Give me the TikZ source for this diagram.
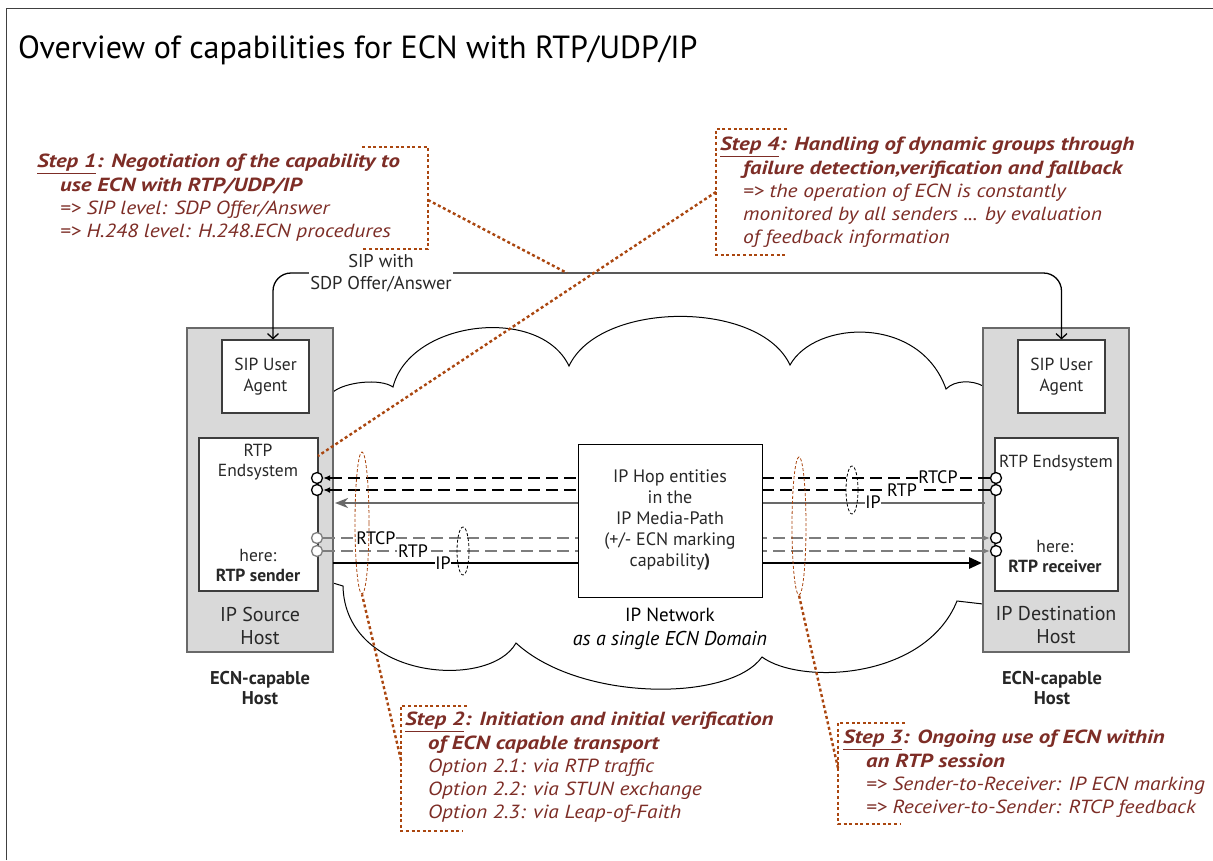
\documentclass[tikz,border=0pt]{standalone}
\usepackage{fontspec}
\setmainfont{PT Sans}
\newfontfamily\stepfont[FakeStretch=1.13]{PT Sans}
\newfontfamily\stepbfont[FakeStretch=1.2]{PT Sans}
\usetikzlibrary{arrows.meta,shapes.geometric}
\definecolor{stepbrown}{RGB}{125,45,38}
\definecolor{dotbrown}{RGB}{170,70,15}
\definecolor{hostgray}{RGB}{217,217,217}
\definecolor{linegray}{RGB}{105,105,105}
\definecolor{sendgray}{RGB}{125,125,125}
\definecolor{txtgray}{RGB}{40,40,40}
\newcommand{\myfs}[2]{\fontsize{#1}{#2}\selectfont}
\newcommand{\stb}[1]{{\stepbfont\bfseries #1}}
\begin{document}
\begin{tikzpicture}[x=1pt,y=-1pt,
  hostbox/.style={draw=linegray, fill=hostgray, line width=1.2pt, inner sep=0},
  innerbox/.style={draw=txtgray!90, fill=white, line width=1.1pt, inner sep=0},
  hosttxt/.style={text=txtgray, align=center, inner sep=0},
  steptxt/.style={text=stepbrown, align=left, anchor=north west, inner sep=0, font=\myfs{19}{23.3}\stepfont\itshape},
  bracket/.style={draw=dotbrown, line width=2.4pt, dash pattern=on 3pt off 2.6pt},
  thinell/.style={ellipse, draw=dotbrown, line width=0.8pt, dash pattern=on 3pt off 2pt, inner sep=0},
  blkell/.style={ellipse, draw=black, line width=0.8pt, dash pattern=on 3pt off 2pt, inner sep=0},
  cloudline/.style={draw=black, line width=1pt},
  sigline/.style={draw=black, line width=1.3pt, rounded corners=18pt, -{Straight Barb[length=5pt,width=11pt]}},
  port/.style={circle, draw=black, line width=1.3pt, fill=white, minimum size=11pt, inner sep=0},
  rxdash/.style={draw=black, line width=1.5pt, dash pattern=on 12pt off 6pt, -{Latex[length=7pt,width=6pt]}},
  txdash/.style={draw=sendgray, line width=1.5pt, dash pattern=on 12pt off 6pt, -{Latex[length=7pt,width=6pt]}},
  lbl/.style={fill=white, inner sep=0.8pt, font=\myfs{18}{20}, text=black}
]
\useasboundingbox (0,0) rectangle (1213,860);
\fill[white] (0,0) rectangle (1213,860);
% frame
\draw[line width=1pt, black!75] (6,860) -- (6,8) -- (1213,8);
% title
\node[anchor=base west, inner sep=0, font=\myfs{32}{38}, text=black] (title) at (18,58) {Overview of capabilities for ECN with RTP/UDP/IP};

% cloud
\draw[cloudline] (333,392) .. controls (345,382) and (380,378) .. (393,387)
  .. controls (410,320) and (540,305) .. (569,366)
  .. controls (600,300) and (760,300) .. (790,365)
  .. controls (815,320) and (920,315) .. (946,389)
  .. controls (955,380) and (972,380) .. (983,386);
\draw[cloudline] (983,604) -- (957,601)
  .. controls (925,680) and (800,685) .. (762,657)
  .. controls (730,702) and (580,702) .. (516,643)
  .. controls (490,690) and (345,680) .. (343,586)
  -- (333,583);

% hosts
\node[hostbox, minimum width=146pt, minimum height=324pt] (srchost) at (260,490) {};
\node[hostbox, minimum width=146pt, minimum height=324pt] (dsthost) at (1056,490) {};
\node[innerbox, minimum width=87pt, minimum height=73pt, hosttxt, font=\myfs{17.5}{21}] (sipL) at (265.5,376.5) {SIP User\\Agent};
\node[innerbox, minimum width=87pt, minimum height=73pt, hosttxt, font=\myfs{17.5}{21}] (sipR) at (1061.5,376.5) {SIP User\\Agent};
\node[innerbox, minimum width=119pt, minimum height=153pt] (rtpL) at (258.5,514.5) {};
\node[innerbox, minimum width=123pt, minimum height=153pt] (rtpR) at (1056.5,514.5) {};
\node[hosttxt, font=\myfs{17.5}{20}] (rtpLt) at (258,462) {RTP\\Endsystem};
\node[hosttxt, font=\myfs{17.5}{20}] (rtpLb) at (258,565) {here:\\\textbf{RTP sender}};
\node[hosttxt, font=\myfs{17.5}{20}] (rtpRt) at (1056,463) {RTP Endsystem};
\node[hosttxt, font=\myfs{17.5}{20}] (rtpRb) at (1055,556) {here:\\\textbf{RTP receiver}};
\node[hosttxt, font=\myfs{20}{23}] (srclbl) at (260,625.5) {IP Source\\Host};
\node[hosttxt, font=\myfs{20}{23}] (dstlbl) at (1056,625.5) {IP Destination\\Host};
\node[hosttxt, font=\myfs{18.5}{20}\bfseries, text=black!85] (ecnL) at (260,688) {ECN-capable\\Host};
\node[hosttxt, font=\myfs{18.5}{20}\bfseries, text=black!85] (ecnR) at (1052,688) {ECN-capable\\Host};

% SIP signalling
\coordinate (sipmid) at (381,273);
\draw[sigline] (sipmid) -| ([xshift=7.5pt]sipL.north);
\draw[sigline] (sipmid) -| (sipR.north);
\node[fill=white, inner sep=1pt, align=center, font=\myfs{18.5}{22}, text=txtgray] (siplbl) at (sipmid) {SIP with\\SDP Offer/Answer};

% ports
\node[port] (pL1) at (317,478) {};
\node[port] (pL2) at (317,490) {};
\node[port, draw=sendgray] (pL3) at (317,538) {};
\node[port, draw=sendgray] (pL4) at (317,551) {};
\node[port] (pR1) at (996,478) {};
\node[port] (pR2) at (996,490) {};
\node[port] (pR3) at (996,538) {};
\node[port] (pR4) at (996,551) {};
\coordinate (ipRa) at (985,503);
\coordinate (ipLa) at (335,503);
\coordinate (ipLb) at (333,563);
\coordinate (ipRb) at (982,563);

% media lines
\draw[rxdash] (pR1) -- (pL1);
\draw[rxdash] (pR2) -- (pL2);
\draw[draw=linegray, line width=2.8pt, -{Stealth[length=13pt,width=10pt,inset=4pt]}] (ipRa) -- (ipLa);
\draw[txdash] (pL3) -- (pR3);
\draw[txdash] (pL4) -- (pR4);
\draw[draw=black, line width=2.8pt, -{Triangle[length=13pt,width=11pt]}] (ipLb) -- (ipRb);

% hop box
\node[draw=black, line width=1pt, fill=white, minimum width=184pt, minimum height=153pt, align=center, font=\myfs{18}{21}, text=txtgray] (hop) at (670,520.5) {IP Hop entities\\in the\\IP Media-Path\\(+/- ECN marking\\capability\textbf{)}};
\node[hosttxt, font=\myfs{19}{24}, text=black] (netlbl) at (670,629) {IP Network\\\textit{\myfs{20}{24}as a single ECN Domain}};

% line labels
\node[lbl] (lRTCPl) at (376,538) {RTCP};
\node[lbl] (lRTPl) at (413,551) {RTP};
\node[lbl] (lIPl) at (443,563) {IP};
\node[lbl] (lRTCPr) at (938,477) {RTCP};
\node[lbl] (lRTPr) at (902,490) {RTP};
\node[lbl] (lIPr) at (873,502) {IP};

% ellipses
\node[thinell, minimum width=14pt, minimum height=142pt] (ellL) at (362,523) {};
\node[thinell, minimum width=14pt, minimum height=138pt] (ellR) at (799,526) {};
\node[blkell, minimum width=12pt, minimum height=48pt] (bellL) at (463,551) {};
\node[blkell, minimum width=12pt, minimum height=48pt] (bellR) at (852,490) {};

% step callouts
\coordinate (sigpt) at (567,273);
\coordinate (s1p) at (428,200);
\draw[bracket] (362,147) -- (428,147) -- (428,249) -- (362,249);
\draw[bracket] (s1p) -- (sigpt);

\coordinate (s4p) at (716,192);
\coordinate (rtpLpt) at (318,456);
\draw[bracket] (787,129) -- (716,129) -- (716,255) -- (787,255);
\draw[bracket] (s4p) -- (rtpLpt);

\coordinate (s2p) at (401,760);
\draw[bracket] (467,706) -- (401,706) -- (401,831) -- (463,831);
\draw[bracket] (s2p) -- (ellL.south);

\coordinate (s3p) at (838,768);
\draw[bracket] (905,723) -- (838,723) -- (838,824) -- (900,824);
\draw[bracket] (s3p) -- (ellR.south);

% step texts
\node[steptxt] (s1txt) at (37,154) {\stb{\underline{Step 1}: Negotiation of the capability to}\\
\hspace*{23pt}\stb{use ECN with RTP/UDP/IP}\\
\hspace*{23pt}=> SIP level: SDP Offer/Answer\\
\hspace*{23pt}=> H.248 level: H.248.ECN procedures};
\node[steptxt] (s4txt) at (720,137) {\stb{\underline{Step 4}: Handling of dynamic groups through}\\
\hspace*{23pt}\stb{failure detection,verification and fallback}\\
\hspace*{23pt}=> the operation of ECN is constantly\\
\hspace*{23pt}monitored by all senders ... by evaluation\\
\hspace*{23pt}of feedback information};
\node[steptxt] (s2txt) at (405,712) {\stb{\underline{Step 2}: Initiation and initial verification}\\
\hspace*{23pt}\stb{of ECN capable transport}\\
\hspace*{23pt}Option 2.1: via RTP traffic\\
\hspace*{23pt}Option 2.2: via STUN exchange\\
\hspace*{23pt}Option 2.3: via Leap-of-Faith};
\node[steptxt] (s3txt) at (843,730) {\stb{\underline{Step 3}: Ongoing use of ECN within}\\
\hspace*{23pt}\stb{an RTP session}\\
\hspace*{23pt}=> Sender-to-Receiver: IP ECN marking\\
\hspace*{23pt}=> Receiver-to-Sender: RTCP feedback};
\end{tikzpicture}
\end{document}
